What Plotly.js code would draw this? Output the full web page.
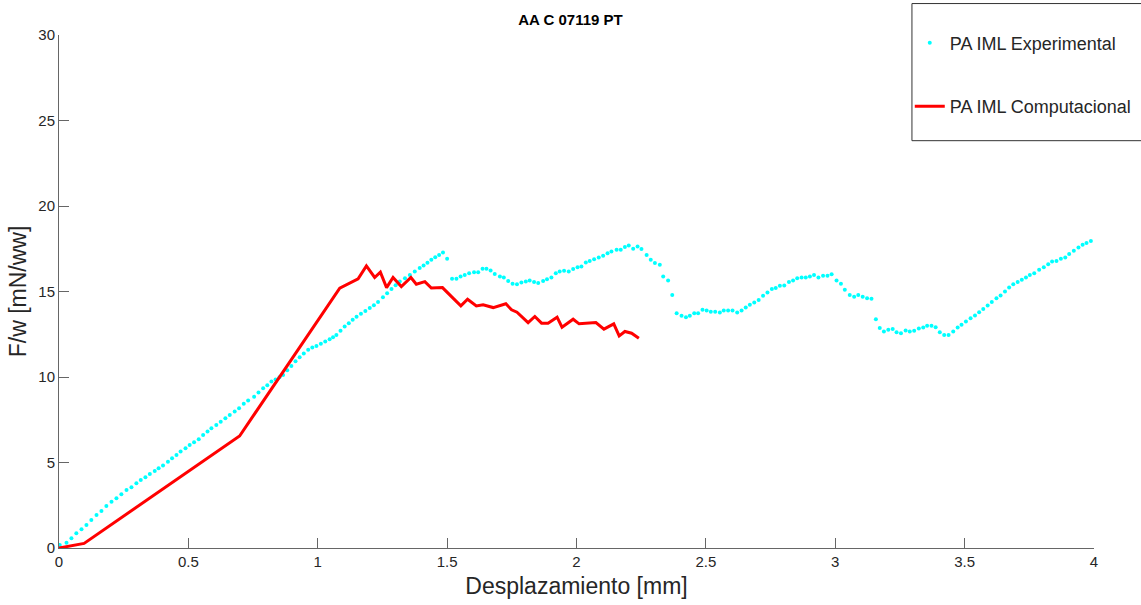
<!DOCTYPE html>
<html>
<head>
<meta charset="utf-8">
<script src="https://cdn.plot.ly/plotly-3.0.1.min.js"></script>
<style>html,body{margin:0;padding:0;background:#fff;}#chart{width:1141px;height:605px;}</style>
</head>
<body>
<div id="chart"></div>
<script>
const chartTitle = "AA C 07119 PT";
const seriesNames = ["PA IML Experimental", "PA IML Computacional"];
const xTitle = "Desplazamiento [mm]";
const yTitle = "F/w [mN/ww]";

const expX = [0.003,0.029,0.048,0.067,0.087,0.106,0.125,0.145,0.164,0.183,0.203,0.222,0.241,0.261,0.280,0.299,0.316,0.334,0.351,0.370,0.385,0.402,0.421,0.437,0.454,0.470,0.489,0.505,0.522,0.540,0.557,0.574,0.589,0.608,0.625,0.643,0.660,0.679,0.696,0.714,0.731,
0.754,0.771,0.789,0.805,0.821,0.837,0.852,0.866,0.882,0.898,0.914,0.930,0.946,0.963,0.979,0.995,1.012,1.029,1.046,1.059,1.072,1.088,1.104,1.120,1.135,1.150,1.167,1.184,1.201,1.217,1.233,1.252,1.268,1.285,1.301,1.317,1.337,1.356,1.375,1.394,1.409,1.424,1.439,1.454,1.469,1.484,1.500,
1.519,1.536,1.552,1.568,1.585,1.604,1.620,1.637,1.652,1.668,1.684,1.704,1.719,1.736,1.753,1.770,1.787,1.804,1.819,1.836,1.852,1.871,1.886,1.903,1.920,1.935,1.952,1.970,1.987,2.004,2.019,2.036,2.051,2.068,2.086,2.103,2.120,2.135,2.155,2.171,2.187,2.202,2.219,2.236,2.251,
2.271,2.287,2.303,2.322,2.335,2.354,2.370,2.387,2.406,2.423,2.438,2.455,2.470,2.487,2.503,2.519,2.536,2.554,2.569,2.586,2.603,2.621,2.638,2.654,2.670,2.687,2.704,2.721,2.738,2.755,2.770,2.786,2.803,2.821,2.837,2.853,2.870,2.886,2.902,2.918,2.935,2.953,2.970,2.986,3.005,3.022,3.037,3.056,3.073,3.089,3.106,3.123,3.140,3.157,3.172,3.188,3.205,3.222,3.237,3.254,3.272,3.288,3.305,3.323,3.340,3.355,3.372,3.388,3.404,3.421,3.438,3.456,3.473,3.488,3.505,3.523,3.540,3.556,3.572,3.589,3.605,3.623,3.639,3.656,3.672,3.688,3.705,3.721,3.737,3.752,3.769,3.788,3.806,3.823,3.838,3.855,3.872,3.889,3.904,3.922,3.940,3.956,3.971,3.988];

const expY = [0.18,0.31,0.57,0.86,1.09,1.35,1.64,1.93,2.17,2.46,2.71,2.91,3.14,3.39,3.55,3.78,3.98,4.14,4.33,4.51,4.66,4.82,5.05,5.25,5.44,5.64,5.83,6.03,6.18,6.36,6.61,6.81,7.00,7.20,7.39,7.59,7.78,7.98,8.17,8.43,8.62,
8.85,9.10,9.34,9.52,9.73,9.85,9.98,10.12,10.40,10.65,10.92,11.16,11.38,11.59,11.72,11.82,11.95,12.08,12.21,12.33,12.46,12.70,12.95,13.15,13.35,13.53,13.70,13.86,14.03,14.20,14.38,14.67,14.90,15.14,15.36,15.58,15.78,15.97,16.17,16.37,16.52,16.68,16.85,17.00,17.14,17.28,16.91,
15.74,15.74,15.88,15.97,16.07,16.13,16.13,16.33,16.33,16.23,16.02,15.88,15.82,15.62,15.45,15.43,15.52,15.58,15.64,15.55,15.49,15.62,15.72,15.82,16.07,16.17,16.21,16.17,16.31,16.42,16.46,16.69,16.79,16.89,16.99,17.09,17.24,17.34,17.44,17.44,17.60,17.69,17.50,17.63,17.48,
17.14,16.85,16.66,16.56,15.88,15.64,14.80,13.73,13.58,13.50,13.58,13.73,13.73,13.93,13.89,13.81,13.81,13.77,13.89,13.89,13.89,13.77,13.89,14.06,14.22,14.35,14.51,14.75,14.94,15.14,15.20,15.33,15.35,15.55,15.64,15.78,15.82,15.82,15.88,15.97,15.82,15.92,15.92,16.01,15.64,15.45,15.10,14.80,14.70,14.80,14.70,14.61,14.57,13.38,12.86,12.66,12.76,12.80,12.62,12.56,12.72,12.66,12.70,12.83,12.89,12.99,12.99,12.91,12.62,12.45,12.45,12.66,12.89,13.05,13.24,13.44,13.59,13.79,13.98,14.18,14.38,14.61,14.76,15.00,15.23,15.43,15.55,15.68,15.82,15.97,16.07,16.27,16.42,16.60,16.75,16.79,16.91,16.99,17.19,17.38,17.57,17.73,17.83,17.96];

const compX = [0,0.097,0.698,1.085,1.156,1.188,1.220,1.242,1.266,1.291,1.323,1.360,1.381,1.414,1.439,1.482,1.517,1.553,1.579,1.613,1.639,1.678,1.727,1.749,1.770,1.813,1.839,1.865,1.890,1.925,1.944,1.987,2.010,2.075,2.106,2.144,2.165,2.187,2.213,2.241];
const compY = [0,0.27,6.55,15.20,15.74,16.50,15.82,16.13,15.23,15.82,15.29,15.82,15.43,15.58,15.20,15.23,14.70,14.16,14.55,14.16,14.22,14.06,14.28,13.93,13.79,13.18,13.54,13.15,13.15,13.50,12.91,13.38,13.11,13.18,12.80,13.11,12.40,12.66,12.56,12.27];

const xTickVals = [0,0.5,1,1.5,2,2.5,3,3.5,4];
const xTickText = ["0","0.5","1","1.5","2","2.5","3","3.5","4"];
const yTickVals = [0,5,10,15,20,25,30];
const yTickText = ["0","5","10","15","20","25","30"];

const traces = [
  {x: expX, y: expY, type: "scatter", mode: "markers", name: seriesNames[0], legendgroup: "a",
   marker: {color: "#00FFFF", size: 4, symbol: "circle", line: {width: 0}}},
  {x: compX, y: compY, type: "scatter", mode: "lines", name: seriesNames[1], legendgroup: "b",
   line: {color: "#FF0000", width: 3}}
];

const axisCommon = {
  showgrid: false, zeroline: false, showline: true, linecolor: "#666", linewidth: 1,
  ticks: "inside", ticklen: 10, tickcolor: "#666", tickwidth: 1,
  tickfont: {family: "Arial, Liberation Sans, sans-serif", size: 15, color: "#262626"}
};

const layout = {
  width: 1141, height: 605,
  paper_bgcolor: "#fff", plot_bgcolor: "#fff",
  margin: {l: 59, r: 47, t: 35, b: 57, autoexpand: false},
  title: {text: "<b>" + chartTitle + "</b>", x: 0.5, xanchor: "center", y: 0.968, yanchor: "middle",
          font: {family: "Arial, Liberation Sans, sans-serif", size: 15, color: "#000"}},
  xaxis: Object.assign({}, axisCommon, {range: [0, 4], tickvals: xTickVals, ticktext: xTickText,
          title: {text: xTitle, standoff: 8, font: {family: "Arial, Liberation Sans, sans-serif", size: 23, color: "#262626"}}}),
  yaxis: Object.assign({}, axisCommon, {range: [0, 30], tickvals: yTickVals, ticktext: yTickText,
          title: {text: yTitle, standoff: 5, font: {family: "Arial, Liberation Sans, sans-serif", size: 23, color: "#262626"}}}),
  showlegend: true,
  legend: {x: 0.822, xanchor: "left", y: 1.0203, yanchor: "top", bgcolor: "rgba(0,0,0,0)", borderwidth: 0,
           traceorder: "grouped", tracegroupgap: 37,
           font: {family: "Arial, Liberation Sans, sans-serif", size: 18, color: "#262626"}},
  shapes: [{type: "rect", xref: "paper", yref: "paper", x0: 0.8241, x1: 1.08, y0: 0.794, y1: 1.0613,
            line: {color: "#333", width: 1}, fillcolor: "rgba(255,255,255,1)", layer: "below"}]
};

Plotly.newPlot("chart", traces, layout, {displayModeBar: false, staticPlot: true});
</script>
</body>
</html>
